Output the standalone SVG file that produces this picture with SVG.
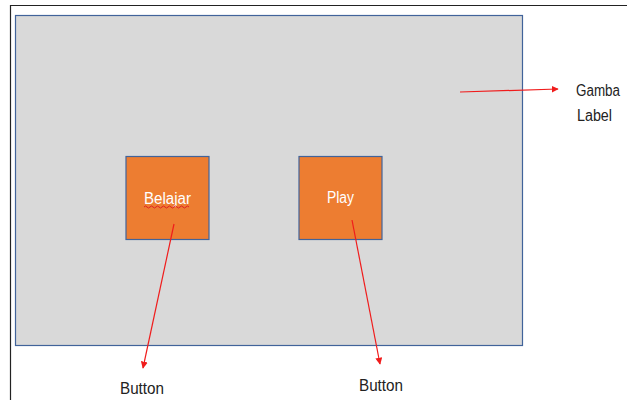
<svg xmlns="http://www.w3.org/2000/svg" width="627" height="400" viewBox="0 0 627 400">
<style>
.lbl{font-family:"Liberation Sans",Arial,sans-serif;font-size:16px;fill:#222}
.btn{fill:#ed7d31;stroke:#41639a;stroke-width:1.2}
.btxt{font-family:"Liberation Sans",Arial,sans-serif;font-size:16px;fill:#fff;text-anchor:middle}
.conn{stroke:#f01c1c;stroke-width:1.2;fill:none}
</style>
<defs>
<marker id="ah" viewBox="0 0 10 10" refX="9" refY="5" markerWidth="7" markerHeight="7" markerUnits="userSpaceOnUse" orient="auto">
<path d="M0,0 L10,5 L0,10 z" fill="#f01c1c"/>
</marker>
</defs>
<rect width="627" height="400" fill="#fff"/>
<path d="M10.5,400 V5.5 H627" fill="none" stroke="#222" stroke-width="1.2"/>
<g id="screen">
<rect x="15.5" y="15.5" width="507" height="330" fill="#d9d9d9" stroke="#41639a" stroke-width="1.2"/>
</g>
<g id="belajar">
<rect class="btn" x="126" y="156.5" width="83" height="83"/>
<text class="btxt" x="167.5" y="204" textLength="47" lengthAdjust="spacingAndGlyphs">Belajar</text>
<path d="M144,207 q1.5,-2 3,0 t3,0 t3,0 t3,0 t3,0 t3,0 t3,0 t3,0 t3,0 t3,0 t3,0 t3,0 t3,0 t3,0 t3,0" fill="none" stroke="#e02020" stroke-width="1"/>
</g>
<g id="play">
<rect class="btn" x="299" y="156.5" width="83" height="83"/>
<text class="btxt" x="340.5" y="203" textLength="27" lengthAdjust="spacingAndGlyphs">Play</text>
</g>
<g id="connectors">
<line class="conn" x1="460" y1="92" x2="558" y2="89" marker-end="url(#ah)"/>
<line class="conn" x1="174" y1="224" x2="143" y2="368" marker-end="url(#ah)"/>
<line class="conn" x1="352" y1="220" x2="380" y2="364" marker-end="url(#ah)"/>
</g>
<g id="label-gambar">
<text class="lbl" x="576" y="96" textLength="44" lengthAdjust="spacingAndGlyphs">Gamba</text>
<text class="lbl" x="577" y="121" textLength="35" lengthAdjust="spacingAndGlyphs">Label</text>
</g>
<g id="label-button1">
<text class="lbl" x="120" y="394" textLength="44" lengthAdjust="spacingAndGlyphs">Button</text>
</g>
<g id="label-button2">
<text class="lbl" x="359" y="391" textLength="44" lengthAdjust="spacingAndGlyphs">Button</text>
</g>
</svg>
